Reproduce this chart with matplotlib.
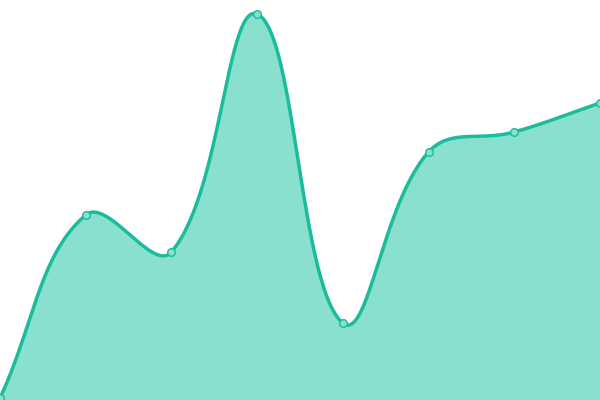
import numpy as np
import matplotlib
matplotlib.use("Agg")
import matplotlib.pyplot as plt

categories = ["A", "B", "C", "D", "E", "F", "G", "H"]
values = [2, 185, 148, 386, 77, 248, 268, 297]

LINE = "#1abc9c"
FILL = "#8ae0cf"

fig = plt.figure(figsize=(6, 4), dpi=100)
ax = fig.add_axes([0, 0, 1, 1])
xs = np.arange(len(values), dtype=float)
ax.set_xlim(0, len(values) - 1)
ax.set_ylim(0, 400)
ax.axis("off")

# convert to display-like pixel coords for Chart.js-style spline
px = xs / (len(values) - 1) * 600
py = np.array(values, dtype=float)
t = 0.4
n = len(px)
cp_prev = np.zeros((n, 2))
cp_next = np.zeros((n, 2))
for i in range(n):
    p = np.array([px[i], py[i]])
    prev = np.array([px[max(i - 1, 0)], py[max(i - 1, 0)]])
    nxt = np.array([px[min(i + 1, n - 1)], py[min(i + 1, n - 1)]])
    d01 = np.hypot(*(p - prev))
    d12 = np.hypot(*(nxt - p))
    tot = d01 + d12
    s01 = d01 / tot if tot else 0
    s12 = d12 / tot if tot else 0
    cp_prev[i] = p - t * s01 * (nxt - prev)
    cp_next[i] = p + t * s12 * (nxt - prev)

cx, cy = [], []
tt = np.linspace(0, 1, 60)
for i in range(n - 1):
    P0 = np.array([px[i], py[i]])
    P1 = cp_next[i]
    P2 = cp_prev[i + 1]
    P3 = np.array([px[i + 1], py[i + 1]])
    b = ((1 - tt) ** 3)[:, None] * P0 + (3 * (1 - tt) ** 2 * tt)[:, None] * P1 + \
        (3 * (1 - tt) * tt ** 2)[:, None] * P2 + (tt ** 3)[:, None] * P3
    cx.extend(b[:, 0]); cy.extend(b[:, 1])
cx = np.array(cx) / 600 * (len(values) - 1)
cy = np.array(cy)

ax.fill_between(cx, cy, 0, color=FILL, lw=0, zorder=1)
ax.plot(cx, cy, color=LINE, lw=2.5, zorder=2, solid_capstyle="round")
ax.plot(xs, values, "o", ms=5.5, mfc="#8ae0cf", mec=LINE, mew=1, zorder=3, clip_on=False)

fig.savefig("out.png", dpi=100)
